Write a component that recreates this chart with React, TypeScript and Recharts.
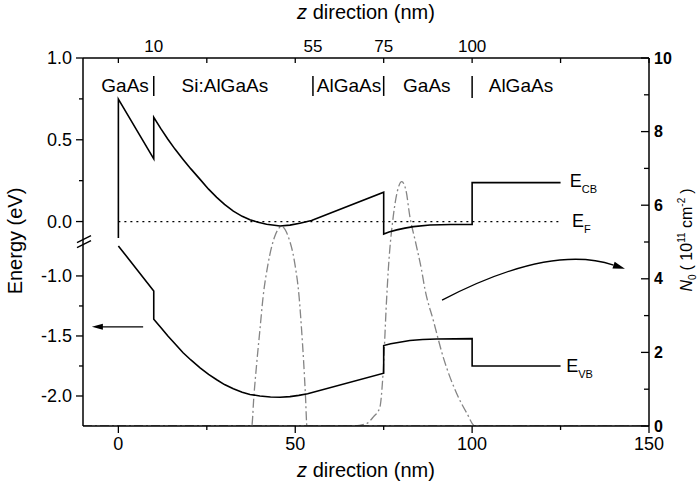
import React from 'react';
import * as Recharts from 'recharts';
import { ComposedChart, Line, XAxis, YAxis, Customized } from 'recharts';

const FONT = '"Liberation Sans", Arial, Helvetica, sans-serif';

// z direction (nm)
const Z_DOMAIN: [number, number] = [-10, 150];
const bottomTicks = [0, 25, 50, 75, 100, 125, 150];
const topTicks = [0, 10, 25, 50, 55, 75, 100, 125, 150];
const topLabels = [10, 55, 75, 100];

// energy axis (eV), broken between the band edges
const energyTicks = [1.0, 0.75, 0.5, 0.25, 0.0, -1.0, -1.25, -1.5, -1.75, -2.0];
// N0 axis (10^11 cm^-2)
const densityTicks = [0, 1, 2, 3, 4, 5, 6, 7, 8, 9, 10];

// layer stack
const layerNames = ['GaAs', 'Si:AlGaAs', 'AlGaAs', 'GaAs', 'AlGaAs'];
const layerCenters = [1.9, 30.1, 65.2, 87.2, 113.8];
const interfaces = [10, 55, 75, 100];

// conduction band edge E_CB
const cbZ = [0, 0, 10, 10, 12, 14, 16, 18.3, 20.5, 23.1, 25.5, 27.8, 30, 32.5, 35, 37.2, 39.5, 41.9, 45.7, 48.5, 51.3, 54.6, 75, 75, 76.5, 78.7, 81, 83.4, 88.1, 94, 100, 100, 125];
const cbE = [-0.1, 0.748, 0.383, 0.637, 0.568, 0.503, 0.443, 0.38, 0.322, 0.258, 0.198, 0.148, 0.105, 0.064, 0.032, 0.011, -0.004, -0.016, -0.027, -0.022, -0.01, 0.006, 0.179, -0.076, -0.064, -0.051, -0.04, -0.031, -0.021, -0.018, -0.017, 0.238, 0.238];

// valence band edge E_VB
const vbZ = [0, 10, 10, 12, 14, 16, 18.3, 20.5, 23.1, 25.5, 27.8, 30, 32.5, 35, 37.2, 40, 43, 45.7, 48.5, 51, 53.5, 75, 75, 77, 79.5, 82.4, 86, 90, 100, 100, 125];
const vbE = [-0.75, -1.125, -1.36, -1.43, -1.5, -1.565, -1.64, -1.7, -1.765, -1.82, -1.865, -1.905, -1.94, -1.968, -1.987, -2.0, -2.008, -2.01, -2.005, -1.995, -1.982, -1.81, -1.58, -1.565, -1.552, -1.538, -1.53, -1.525, -1.522, -1.75, -1.75];

// Fermi level
const efZ = [0, 125];
const efE = [0, 0];

// electron density of the two subbands
const n1Z = [-10, 37.7, 38.3, 39.1, 40.0, 40.9, 42.3, 44.2, 46.2, 48.0, 49.9, 51.1, 51.8, 52.4, 52.9, 53.3, 150];
const n1V = [0, 0, 0.8, 1.7, 2.6, 3.5, 4.4, 5.15, 5.42, 5.15, 4.4, 3.5, 2.6, 1.7, 0.8, 0, 0];
const n2Z = [-10, 66, 70, 72.1, 73.9, 74.8, 75.8, 76.3, 77.7, 78.8, 80.1, 81.3, 82.4, 84.0, 85.7, 86.7, 89.0, 91.8, 95.6, 98.5, 100.8, 150];
const n2V = [0, 0, 0.06, 0.25, 0.5, 1.4, 3.4, 4.24, 5.69, 6.35, 6.64, 6.4, 5.69, 5.0, 4.24, 3.7, 2.88, 1.88, 0.89, 0.35, 0, 0];

// broken axis: upper part is 1:1 in eV, lower part is compressed
const AX_MIN = -1.25;
const AX_MAX = 1.0;
const LOW_SCALE = 0.734;
const toAxis = (e: number) => (e > -0.5 ? e : AX_MIN + (e + 2.25) * LOW_SCALE);
const fromAxis = (v: number) => (v > -0.13 ? v : (v - AX_MIN) / LOW_SCALE - 2.25);

const bandRows = (zs: number[], es: number[]) => zs.map((z, i) => ({ z, v: toAxis(es[i]) }));
const densityRows = (zs: number[], ns: number[]) => zs.map((z, i) => ({ z, n: ns[i] }));

const cbRows = bandRows(cbZ, cbE);
const vbRows = bandRows(vbZ, vbE);
const efRows = bandRows(efZ, efE);
const n1Rows = densityRows(n1Z, n1V);
const n2Rows = densityRows(n2Z, n2V);

const W = 699;
const H = 490;

function LeftTick(props: any) {
  const { x, y, payload } = props;
  const e = fromAxis(payload.value);
  const major = Math.abs(e * 2 - Math.round(e * 2)) < 1e-3;
  return (
    <g>
      <line x1={x} x2={x - (major ? 7 : 4)} y1={y} y2={y} stroke="#000" strokeWidth={1.3} />
      {major && (
        <text x={x - 11} y={y} dy="0.35em" textAnchor="end" fontSize={18} fontFamily={FONT} fill="#000">
          {e.toFixed(1)}
        </text>
      )}
    </g>
  );
}

function RightTick(props: any) {
  const { x, y, payload } = props;
  const major = payload.value % 2 === 0;
  return (
    <g>
      <line x1={x} x2={x - (major ? 8 : 5)} y1={y} y2={y} stroke="#000" strokeWidth={1.3} />
      {major && (
        <text x={x + 5} y={y} dy="0.35em" textAnchor="start" fontSize={16} fontWeight="bold" fontFamily={FONT} fill="#000">
          {payload.value}
        </text>
      )}
    </g>
  );
}

function BottomTick(props: any) {
  const { x, y, payload } = props;
  const major = payload.value % 50 === 0;
  return (
    <g>
      <line x1={x} x2={x} y1={y} y2={y + (major ? 7 : 4)} stroke="#000" strokeWidth={1.3} />
      {major && (
        <text x={x} y={y + 24} textAnchor="middle" fontSize={18} fontFamily={FONT} fill="#000">
          {payload.value}
        </text>
      )}
    </g>
  );
}

function TopTick(props: any) {
  const { x, y, payload } = props;
  const v = payload.value;
  return (
    <g>
      {v % 25 === 0 && <line x1={x} x2={x} y1={y} y2={y + 5} stroke="#000" strokeWidth={1.3} />}
      {topLabels.includes(v) && (
        <text x={x} y={y - 6} textAnchor="middle" fontSize={17} fontFamily={FONT} fill="#000">
          {v}
        </text>
      )}
    </g>
  );
}

const usePlotAreaHook = (Recharts as any).usePlotArea as undefined | (() => any);

function Annotations() {
  const area = usePlotAreaHook ? usePlotAreaHook() : null;
  const box = area && area.width ? area : { x: 83, y: 58, width: 566, height: 368 };
  const zx = (z: number) => box.x + ((z - Z_DOMAIN[0]) / (Z_DOMAIN[1] - Z_DOMAIN[0])) * box.width;
  const ey = (e: number) => box.y + ((AX_MAX - toAxis(e)) / (AX_MAX - AX_MIN)) * box.height;
  const ny = (n: number) => box.y + ((10 - n) / 10) * box.height;

  // straight arrow towards the energy axis
  const la = { x0: zx(7), x1: zx(-7.5), y: ey(-1.424) };
  // curved arrow towards the N0 axis
  const p0 = { x: zx(91.5), y: ny(3.42) };
  const pc = { x: zx(122), y: ny(4.95) };
  const p2 = { x: zx(143.2), y: ny(4.27) };
  const dx = p2.x - pc.x;
  const dy = p2.y - pc.y;
  const len = Math.hypot(dx, dy);
  const ux = dx / len;
  const uy = dy / len;
  const hb = { x: p2.x - ux * 12, y: p2.y - uy * 12 };

  const axisX = box.x;
  const breakY = ey(-0.12) + 0.5;

  return (
    <g fontFamily={FONT} fill="#000">
      {/* axis break */}
      <polygon
        points={`${axisX - 3},${breakY + 1} ${axisX + 3},${breakY - 2} ${axisX + 3},${breakY + 3} ${axisX - 3},${breakY + 6}`}
        fill="#fff"
      />
      <line x1={axisX - 6} y1={breakY + 1} x2={axisX + 8} y2={breakY - 6} stroke="#000" strokeWidth={1.3} />
      <line x1={axisX - 6} y1={breakY + 6} x2={axisX + 8} y2={breakY - 1} stroke="#000" strokeWidth={1.3} />

      {/* layer labels and interfaces */}
      {layerNames.map((name, i) => (
        <text key={'l' + i} x={zx(layerCenters[i])} y={ey(0.795)} textAnchor="middle" fontSize={19}>
          {name}
        </text>
      ))}
      {interfaces.map((z) => (
        <line key={'i' + z} x1={zx(z)} x2={zx(z)} y1={ey(0.89)} y2={ey(z === 100 ? 0.755 : 0.768)} stroke="#000" strokeWidth={1.5} />
      ))}

      {/* band labels */}
      <text x={zx(127.6)} y={ey(0.238) + 4.5} fontSize={18}>
        E<tspan fontSize={11} dy={6}>CB</tspan>
      </text>
      <text x={zx(128.2)} y={ey(0) + 5.5} fontSize={18}>
        E<tspan fontSize={11} dy={6}>F</tspan>
      </text>
      <text x={zx(126.6)} y={ey(-1.75) + 6.5} fontSize={18}>
        E<tspan fontSize={11} dy={6}>VB</tspan>
      </text>

      {/* arrows */}
      <line x1={la.x0} x2={la.x1 + 10} y1={la.y} y2={la.y} stroke="#000" strokeWidth={1.3} />
      <polygon points={`${la.x1},${la.y} ${la.x1 + 11},${la.y - 3} ${la.x1 + 11},${la.y + 3}`} fill="#000" />
      <path d={`M ${p0.x} ${p0.y} Q ${pc.x} ${pc.y} ${hb.x} ${hb.y}`} fill="none" stroke="#000" strokeWidth={1.3} />
      <polygon
        points={`${p2.x},${p2.y} ${hb.x - uy * 3.5},${hb.y + ux * 3.5} ${hb.x + uy * 3.5},${hb.y - ux * 3.5}`}
        fill="#000"
      />

      {/* axis titles */}
      <text x={box.x + box.width / 2} y={19} textAnchor="middle" fontSize={20}>
        <tspan fontStyle="italic">z</tspan> direction (nm)
      </text>
      <text x={box.x + box.width / 2} y={477} textAnchor="middle" fontSize={20}>
        <tspan fontStyle="italic">z</tspan> direction (nm)
      </text>
      <text transform="translate(22,241) rotate(-90)" textAnchor="middle" fontSize={20}>
        Energy (eV)
      </text>
      <text transform="translate(692,240) rotate(-90)" textAnchor="middle" fontSize={16}>
        <tspan fontStyle="italic">N</tspan>
        <tspan fontSize={10} dy={4}>0</tspan>
        <tspan dy={-4} dx={4}>( 10</tspan>
        <tspan fontSize={10} dy={-7}>11</tspan>
        <tspan dy={7}> cm</tspan>
        <tspan fontSize={10} dy={-7}>-2</tspan>
        <tspan dy={7} dx={4}>)</tspan>
      </text>
    </g>
  );
}

export default function App() {
  return (
    <div style={{ position: 'absolute', left: 0, top: 0, width: W, height: H, background: '#fff' }}>
      <ComposedChart width={W} height={H} margin={{ top: 0, right: 0, bottom: 0, left: 0 }}>
        <XAxis
          xAxisId="b"
          type="number"
          dataKey="z"
          domain={Z_DOMAIN}
          allowDataOverflow
          ticks={bottomTicks}
          interval={0}
          tick={BottomTick}
          tickLine={false}
          tickSize={0}
          tickMargin={0}
          height={64}
          axisLine={{ stroke: '#000', strokeWidth: 1.5 }}
        />
        <XAxis
          xAxisId="t"
          orientation="top"
          type="number"
          dataKey="z"
          domain={Z_DOMAIN}
          allowDataOverflow
          ticks={topTicks}
          interval={0}
          tick={TopTick}
          tickLine={false}
          tickSize={0}
          tickMargin={0}
          height={58}
          axisLine={{ stroke: '#000', strokeWidth: 1.5 }}
        />
        <YAxis
          yAxisId="e"
          type="number"
          domain={[AX_MIN, AX_MAX]}
          allowDataOverflow
          ticks={energyTicks.map(toAxis)}
          interval={0}
          tick={LeftTick}
          tickLine={false}
          tickSize={0}
          tickMargin={0}
          width={83}
          axisLine={{ stroke: '#000', strokeWidth: 1.5 }}
        />
        <YAxis
          yAxisId="n"
          orientation="right"
          type="number"
          domain={[0, 10]}
          allowDataOverflow
          ticks={densityTicks}
          interval={0}
          tick={RightTick}
          tickLine={false}
          tickSize={0}
          tickMargin={0}
          width={50}
          axisLine={{ stroke: '#000', strokeWidth: 1.5 }}
        />
        <Line data={n1Rows} dataKey="n" xAxisId="b" yAxisId="n" type="monotone" stroke="#858585" strokeWidth={1.3} strokeDasharray="9 3 2 3" dot={false} isAnimationActive={false} />
        <Line data={n2Rows} dataKey="n" xAxisId="b" yAxisId="n" type="monotone" stroke="#858585" strokeWidth={1.3} strokeDasharray="9 3 2 3" dot={false} isAnimationActive={false} />
        <Line data={efRows} dataKey="v" xAxisId="t" yAxisId="e" type="linear" stroke="#000" strokeWidth={1.3} strokeDasharray="2 4" dot={false} isAnimationActive={false} />
        <Line data={cbRows} dataKey="v" xAxisId="b" yAxisId="e" type="linear" stroke="#000" strokeWidth={1.6} dot={false} isAnimationActive={false} />
        <Line data={vbRows} dataKey="v" xAxisId="b" yAxisId="e" type="linear" stroke="#000" strokeWidth={1.6} dot={false} isAnimationActive={false} />
        <Customized component={<Annotations />} />
      </ComposedChart>
    </div>
  );
}
